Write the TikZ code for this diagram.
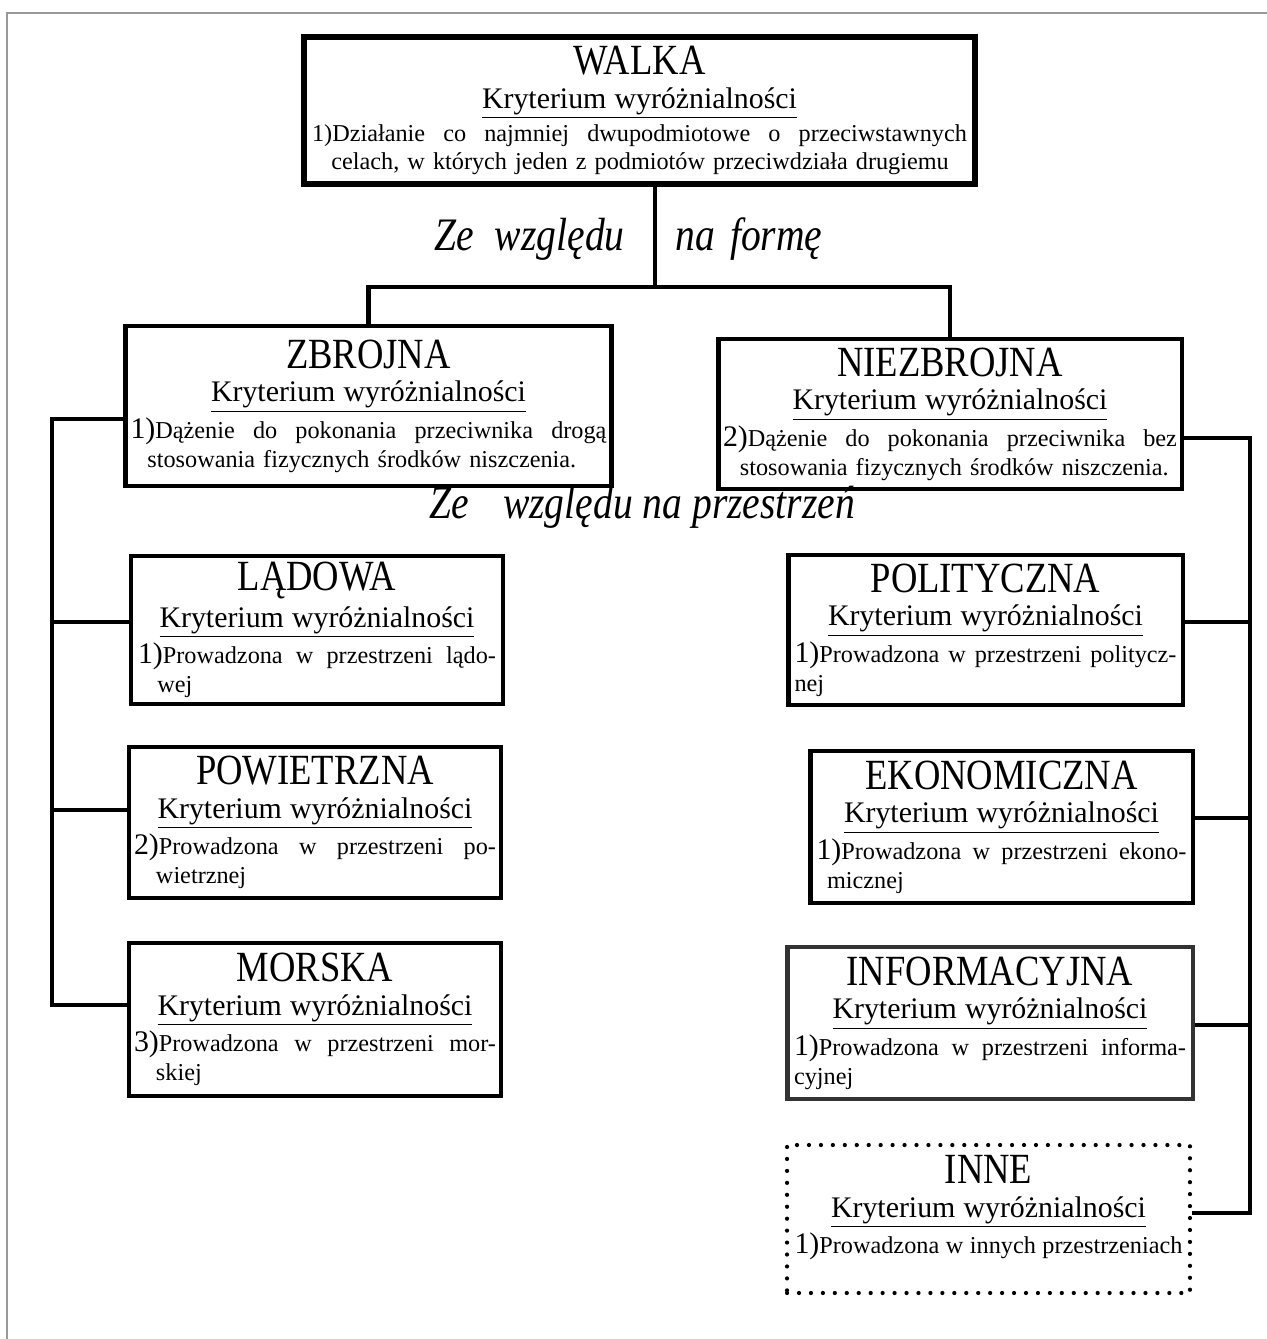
\documentclass[tikz,border=0pt]{standalone}
\usepackage{fontspec}
\setmainfont{Liberation Serif}
\newfontfamily\waska{Liberation Serif}[FakeStretch=0.85]
\usetikzlibrary{positioning}
\AtBeginDocument{\lineskiplimit=-100pt\relax}

\newcommand{\tytul}[1]{{\waska\fontsize{24.5}{24.5}\selectfont #1}}
\newcommand{\kryt}{\underline{\fontsize{17}{17}\selectfont Kryterium wyróżnialności}}
\newcommand{\nr}[1]{{\fontsize{17}{17}\selectfont #1}}
\newcommand{\naglowek}[1]{\tytul{#1}\\[2.9pt]\kryt\\[2.3pt]}
\newcommand{\opis}[3]{\makebox[\linewidth][s]{\spaceskip=0.25em plus 1fil\relax #1}\\\makebox[\linewidth][l]{\hspace{#2}#3}}

\begin{document}
\begin{tikzpicture}[x=0.02cm, y=-0.02cm,
  pole/.style={draw, line width=2.8pt, inner sep=0pt, align=center,
               font=\fontsize{13.8}{16.4}\selectfont},
  poleinne/.style={pole, line width=2.4pt, dash pattern=on 0pt off 6.8pt, line cap=round},
  linia/.style={line width=2.4pt},
  etykieta/.style={font=\waska\fontsize{26.5}{26.5}\selectfont\itshape, inner sep=0pt},
  ramka/.style={draw=gray!80, line width=0.8pt},
]
  \useasboundingbox (0,0) rectangle (1267,1339);
  \draw[ramka] (7,1339) -- (7,13) -- (1267,13);

  % poziom 1
  \node[pole, line width=3.2pt, minimum width=13.42cm, minimum height=2.94cm, text width=13.1cm] (walka) at (639.5,110.5)
    {\naglowek{WALKA}\opis{1)Działanie co najmniej dwupodmiotowe o przeciwstawnych}{11pt}{celach, w których jeden z podmiotów przeciwdziała drugiemu}};

  % poziom 2
  \node[pole, minimum width=9.74cm, minimum height=3.2cm, text width=9.52cm] (zbrojna) at (368.5,406)
    {\naglowek{ZBROJNA}\opis{\nr{1)}Dążenie do pokonania przeciwnika drogą}{9.6pt}{stosowania fizycznych środków niszczenia.}};
  \node[pole, minimum width=9.28cm, minimum height=3.0cm, text width=9.08cm] (niezbrojna) at (950,414)
    {\naglowek{NIEZBROJNA}\opis{\nr{2)}Dążenie do pokonania przeciwnika bez}{9.6pt}{stosowania fizycznych środków niszczenia.}};

  % poziom 3, lewa kolumna
  \node[pole, minimum width=7.44cm, minimum height=2.96cm, text width=7.16cm] (ladowa) at (317,630)
    {\naglowek{LĄDOWA}\opis{\nr{1)}Prowadzona w przestrzeni lądo-}{11pt}{wej}};
  \node[pole, minimum width=7.44cm, minimum height=3.02cm, text width=7.24cm] (powietrzna) at (315,822.5)
    {\naglowek{POWIETRZNA}\opis{\nr{2)}Prowadzona w przestrzeni po-}{12.5pt}{wietrznej}};
  \node[pole, minimum width=7.44cm, minimum height=3.06cm, text width=7.24cm] (morska) at (315,1019.5)
    {\naglowek{MORSKA}\opis{\nr{3)}Prowadzona w przestrzeni mor-}{12.5pt}{skiej}};

  % poziom 3, prawa kolumna
  \node[pole, minimum width=7.9cm, minimum height=3.0cm, text width=7.64cm] (polityczna) at (985.5,630)
    {\naglowek{POLITYCZNA}\opis{\nr{1)}Prowadzona w przestrzeni politycz-}{0pt}{nej}};
  \node[pole, minimum width=7.66cm, minimum height=3.04cm, text width=7.4cm] (ekonomiczna) at (1001.5,827)
    {\naglowek{EKONOMICZNA}\opis{\nr{1)}Prowadzona w przestrzeni ekono-}{6pt}{micznej}};
  \node[pole, draw=black!80, minimum width=8.12cm, minimum height=3.04cm, text width=7.84cm] (informacyjna) at (990,1023)
    {\naglowek{INFORMACYJNA}\opis{\nr{1)}Prowadzona w przestrzeni informa-}{0pt}{cyjnej}};
  \node[poleinne, minimum width=8.06cm, minimum height=2.96cm, text width=7.76cm] (inne) at (988.5,1219)
    {\naglowek{INNE}\opis{\nr{1)}Prowadzona w innych przestrzeniach}{0pt}{}};

  % podzial ze wzgledu na forme
  \coordinate (rozwidlenie) at (655,287);
  \coordinate (pien) at (655,250);
  \draw[linia] (walka.south -| rozwidlenie) -- (rozwidlenie);
  \draw[linia] (zbrojna.north) |- (rozwidlenie) -| (niezbrojna.north);
  \node[etykieta, anchor=base east] (formaL) at ([xshift=-0.6cm]pien) {Ze\hspace{6pt} względu};
  \node[etykieta, anchor=base west] (formaP) at ([xshift=0.4cm]pien) {na\hspace{3pt} formę};

  % podzial ze wzgledu na przestrzen
  \node[etykieta, anchor=base] (przestrzen) at (642,518) {Ze\hspace{14pt} względu na przestrzeń};
  \coordinate (szynaL) at (52,1005);
  \coordinate (szynaP) at (1250,1215);
  \draw[linia] ([yshift=-0.26cm]zbrojna.west) -| (szynaL);
  \foreach \n/\s in {ladowa/0.16, powietrzna/0.25, morska/0.29}
    \draw[linia] ([yshift=\s cm]\n.west) -| (szynaL);
  \draw[linia] ([yshift=-0.48cm]niezbrojna.east) -| (szynaP);
  \foreach \n/\s in {polityczna/0.16, ekonomiczna/0.18, informacyjna/-0.04, inne/0.12}
    \draw[linia] ([yshift=\s cm]\n.east) -| (szynaP);
\end{tikzpicture}
\end{document}
